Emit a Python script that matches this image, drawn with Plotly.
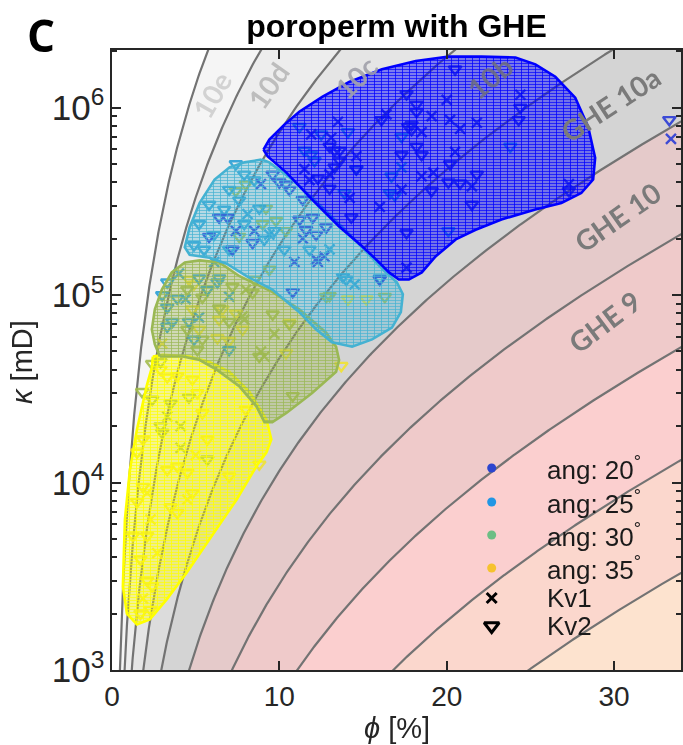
import numpy as np
import plotly.graph_objects as go

# ---------------------------------------------------------------
# GHE framework: k = (1/0.0314^2) * phi^3/(1-phi)^2 * FZI^2
# ---------------------------------------------------------------
FZI_CONST = 1.0 / 0.0314 ** 2
fzi_lines = [6, 12, 24, 48, 96, 192, 384, 768, 1536, 3072]
band_lo = [0.5, 6, 12, 24, 48, 96, 192, 384, 768, 1536]
band_hi = [6, 12, 24, 48, 96, 192, 384, 768, 1536, 3072]
band_colors = ["#fde3cf", "#fbd7cd", "#fbcfcf", "#efcaca", "#e5caca",
               "#d4d4d4", "#dcdcdc", "#e5e5e5", "#ededed", "#f5f5f5"]

ghe_names = ["GHE 9", "GHE 10", "GHE 10a", "10b", "10c", "10d", "10e"]
ghe_name_colors = ["#7a7a7a", "#7a7a7a", "#7a7a7a", "rgba(110,110,125,0.85)",
                   "rgba(160,160,170,0.9)", "#bdbdbd", "#d2d2d2"]
ghe_name_phi = [29.4, 30.2, 29.8, 22.6, 14.6, 9.3, 5.95]
ghe_name_k = [7.2e4, 2.6e5, 1.04e6, 1.45e6, 1.45e6, 1.31e6, 1.17e6]
ghe_name_angle = [-37, -35, -33, -40, -45, -55, -60]

# ---------------------------------------------------------------
# Measurements: porosity phi [%] and permeability kappa [mD]
# ---------------------------------------------------------------
g20_kv1_phi = [20.0, 19.1, 20.2, 20.8, 21.8, 18.5, 14.6, 20.5, 18.5, 21.5, 17.3,
               16.0, 17.6, 24.4, 27.3, 14.2, 33.4, 13.5, 11.9, 13.1, 13.0, 11.8,
               16.4, 19.2, 11.5, 8.5, 10.9, 12.3, 12.7, 8.9, 7.4, 11.4, 12.2]
g20_kv1_k = [1.1e6, 9.0e5, 8.6e5, 7.7e5, 8.3e5, 7.4e5, 5.5e5, 5.8e5, 4.3e5, 3.8e5,
             3.65e5, 2.95e5, 1.4e5, 1.17e6, 3.9e5, 3.3e5, 6.8e5, 8.4e5, 7.2e5,
             6.9e5, 4.4e5, 4.1e5, 9.2e5, 4.5e5, 4.7e5, 2.2e5, 1.5e5, 1.5e5, 1.6e5,
             3.9e5, 2.2e5, 2.0e5, 1.55e5]
g20_kv2_phi = [20.5, 17.6, 18.2, 18.2, 16.1, 17.7, 17.3, 18.2, 18.5, 14.6, 20.2,
               20.1, 20.8, 21.8, 19.1, 21.5, 17.6, 24.4, 24.3, 27.3, 14.3, 33.3,
               13.0, 13.3, 13.6, 12.3, 13.3, 13.6, 13.0, 17.9, 17.9, 9.6, 10.6,
               11.4, 11.2, 11.6, 12.0, 12.8, 12.2, 6.4, 6.9, 7.2, 10.8, 8.4, 5.8,
               16.0, 10.4, 10.0]
g20_kv2_k = [1.6e6, 1.18e6, 1.04e6, 9.5e5, 8.6e5, 7.9e5, 5.6e5, 6.2e5, 5.6e5, 4.7e5,
             5.0e5, 4.0e5, 3.95e5, 4.4e5, 3.6e5, 3.04e5, 2.15e5, 1.0e6, 8.6e5,
             3.6e5, 2.6e5, 8.6e5, 6.2e5, 5.9e5, 5.9e5, 4.2e5, 4.8e5, 5.2e5, 3.7e5,
             8.1e5, 7.6e5, 4.4e5, 3.65e5, 3.23e5, 2.53e5, 2.23e5, 2.6e5, 2.3e5,
             2.1e5, 2.6e5, 2.6e5, 1.75e5, 1.04e5, 1.9e5, 2.05e5, 1.21e5, 3.9e5,
             4.0e5]

g25_kv1_phi = [17.3, 8.1, 9.4, 13.0, 6.1, 4.4, 5.2, 14.5, 7.0, 4.0]
g25_kv1_k = [4.8e5, 2.7e5, 2.1e5, 1.75e5, 1.5e5, 9.5e4, 7.6e4, 1.14e5, 9.8e4, 1.3e5]
g25_kv2_phi = [17.3, 16.6, 16.7, 20.1, 23.8, 16.0, 11.2, 12.5, 14.1, 11.5, 11.9,
               12.1, 14.6, 13.9, 16.9, 13.8, 11.8, 14.0, 7.4, 7.9, 7.0, 8.5, 5.8,
               6.7, 7.6, 8.8, 5.2, 6.1, 7.9, 9.1, 4.9, 5.5, 7.0, 9.7, 10.3, 3.3,
               3.0, 3.9, 3.3, 3.6, 3.3, 4.9, 7.0, 6.3, 5.2, 6.4, 5.7, 4.6]
g25_kv2_k = [7.0e5, 3.5e5, 4.3e5, 2.2e5, 6.2e5, 1.23e5, 7.9e5, 7.2e5, 7.4e5, 5.9e5,
             5.6e5, 5.2e5, 4.7e5, 3.5e5, 3.4e5, 1.25e5, 1.75e5, 1.21e5, 5.0e5,
             4.4e5, 3.65e5, 4.1e5, 3.04e5, 2.86e5, 3.2e5, 2.9e5, 2.4e5, 2.1e5,
             2.4e5, 1.98e5, 1.85e5, 1.75e5, 1.75e5, 2.2e5, 1.75e5, 1.17e5, 1.0e5,
             9.6e4, 8.6e4, 7.2e4, 6.8e4, 5.8e4, 5.1e4, 1.17e5, 1.23e5, 1.23e5,
             1.07e5, 7.2e4]

g30_kv1_phi = [9.7, 8.9, 8.0, 7.8, 3.3, 4.1, 4.1, 9.1, 7.9]
g30_kv1_k = [6.2e4, 5.0e4, 1.07e5, 7.7e4, 2.25e4, 2.0e4, 1.53e4, 4.7e4, 7.4e4]
g30_kv2_phi = [8.0, 7.4, 9.2, 9.8, 7.6, 10.4, 9.0, 9.4, 13.0, 8.5, 9.6, 10.6, 8.8,
               10.8, 12.8, 16.3, 4.5, 5.4, 7.2, 6.4, 4.5, 5.4, 7.0, 8.4, 2.9, 2.4,
               5.1, 2.4, 3.0, 2.9, 4.6, 3.5, 1.8, 5.7]
g30_kv2_k = [3.9e5, 3.6e5, 2.9e5, 2.5e5, 2.05e5, 2.2e5, 2.4e5, 1.37e5, 9.9e4, 1.21e5,
             7.9e4, 7.0e4, 4.7e4, 2.9e4, 9.8e4, 9.8e4, 1.07e5, 9.7e4, 1.11e5,
             8.5e4, 6.55e4, 5.8e4, 7.2e4, 1.03e5, 4.4e4, 4.3e4, 5.1e4, 2.77e4,
             1.85e4, 2.0e4, 2.85e4, 2.65e4, 3.05e4, 1.33e4]

g35_kv1_phi = [2.1, 4.5, 2.3, 2.7, 1.85, 3.0, 5.0]
g35_kv1_k = [8.8e3, 8.1e3, 6.35e3, 4.2e3, 2.4e3, 5.5e4, 1.4e4]
g35_kv2_phi = [4.6, 4.9, 5.7, 6.6, 7.4, 6.4, 5.2, 6.3, 7.0, 7.8, 10.6, 10.4, 4.8,
               13.7, 8.8, 15.2, 2.9, 3.3, 3.9, 4.8, 5.1, 5.4, 3.9, 3.3, 4.5, 1.85,
               1.5, 3.5, 2.1, 3.9, 1.7, 2.1, 2.4, 2.3, 4.8, 7.0, 8.0, 5.7, 1.85,
               1.5, 1.25, 1.7, 14.1]
g35_kv2_k = [1.21e5, 1.14e5, 1.07e5, 8.4e4, 8.0e4, 7.4e4, 6.55e4, 5.9e4, 5.7e4,
             6.55e4, 7.1e4, 4.9e4, 8.4e4, 4.2e4, 1.25e4, 9.5e4, 4.0e4, 3.65e4,
             3.7e4, 3.55e4, 3.0e4, 2.35e4, 1.22e4, 1.17e4, 1.13e4, 9.5e3, 7.9e3,
             7.4e3, 5.2e3, 6.9e3, 3.9e3, 3.0e3, 2.8e3, 2.1e3, 8.8e3, 1.08e4,
             2.45e4, 1.7e4, 1.7e4, 1.45e4, 5.2e3, 2.0e3, 9.5e4]

# Outline of each angle class (phi [%], kappa [mD])
hull20_phi = [9.05, 9.4, 10.3, 11.19, 12.56, 14.17, 16.13, 18.15, 20.12, 22.08,
              24.11, 25.3, 26.49, 27.68, 28.45, 28.87, 28.75, 28.04, 26.85, 25.3,
              23.27, 21.73, 20.54, 19.35, 18.51, 17.74, 17.14, 16.55, 15.77, 14.94,
              13.57, 11.96, 10.42, 9.29]
hull20_k = [5.97e5, 6.75e5, 8.11e5, 9.5e5, 1.14e6, 1.37e6, 1.6e6, 1.77e6, 1.87e6,
            1.87e6, 1.85e6, 1.7e6, 1.46e6, 1.13e6, 7.9e5, 5.4e5, 4.13e5, 3.5e5,
            3.1e5, 2.86e5, 2.53e5, 2.23e5, 1.98e5, 1.61e5, 1.32e5, 1.21e5, 1.21e5,
            1.32e5, 1.55e5, 1.82e5, 2.32e5, 3.23e5, 4.5e5, 5.5e5]
hull25_phi = [8.93, 7.92, 7.02, 6.13, 5.24, 4.64, 4.35, 4.64, 5.83, 6.85, 8.04,
              9.58, 11.19, 12.2, 13.15, 14.35, 15.54, 16.73, 17.26, 17.38, 17.02,
              16.25, 15.06, 13.99, 12.38, 10.77, 9.4]
hull25_k = [5.28e5, 5.1e5, 4.8e5, 4.13e5, 3.1e5, 2.3e5, 1.8e5, 1.64e5, 1.58e5,
            1.47e5, 1.26e5, 1.07e5, 8.1e4, 6.55e4, 5.6e4, 5.3e4, 5.8e4, 6.7e4,
            8.1e4, 1.01e5, 1.17e5, 1.35e5, 1.75e5, 2.2e5, 3.04e5, 4.13e5, 5.1e5]
hull30_phi = [2.86, 2.56, 2.38, 2.56, 2.98, 3.57, 4.35, 5.24, 6.43, 7.62, 9.58,
              11.19, 12.8, 13.39, 13.57, 13.39, 11.96, 10.42, 9.58, 9.11, 8.63,
              7.62, 6.25, 5.24, 4.23]
hull30_k = [4.7e4, 5.45e4, 6.55e4, 8.4e4, 1.07e5, 1.32e5, 1.49e5, 1.53e5, 1.49e5,
            1.26e5, 1.04e5, 8.4e4, 6.3e4, 5.3e4, 4.5e4, 3.9e4, 3.0e4, 2.35e4,
            2.1e4, 2.1e4, 2.55e4, 3.25e4, 4.0e4, 4.5e4, 4.7e4]
hull35_phi = [2.44, 3.04, 4.64, 5.83, 7.02, 8.21, 9.23, 9.52, 9.23, 8.63, 7.44,
              5.83, 4.46, 3.27, 2.26, 1.49, 0.89, 0.65, 0.77, 1.07, 1.49, 2.08, 2.38]
hull35_k = [4.7e4, 4.8e4, 4.7e4, 4.4e4, 3.9e4, 3.05e4, 2.17e4, 1.7e4, 1.45e4,
            1.22e4, 8.1e3, 5.0e3, 3.3e3, 2.38e3, 1.86e3, 1.75e3, 2.0e3, 2.8e3,
            6.35e3, 1.17e4, 1.92e4, 3.3e4, 4.1e4]

angles = [20, 25, 30, 35]
point_colors = {20: "#2b3cd6", 25: "#2aa0d6", 30: "#a3bd4c", 35: "#f0e232"}
legend_colors = {20: "#2c45cf", 25: "#2196e4", 30: "#6cbe84", 35: "#f6c22e"}
hull_line = {20: "#0000ff", 25: "#44b2d2", 30: "#9ab854", 35: "#ffff00"}
hull_fill = {20: "rgba(0,0,255,0.42)", 25: "rgba(68,178,210,0.28)",
             30: "rgba(154,184,84,0.30)", 35: "rgba(255,255,0,0.35)"}

points = {
    20: (g20_kv1_phi, g20_kv1_k, g20_kv2_phi, g20_kv2_k),
    25: (g25_kv1_phi, g25_kv1_k, g25_kv2_phi, g25_kv2_k),
    30: (g30_kv1_phi, g30_kv1_k, g30_kv2_phi, g30_kv2_k),
    35: (g35_kv1_phi, g35_kv1_k, g35_kv2_phi, g35_kv2_k),
}
hulls = {20: (hull20_phi, hull20_k), 25: (hull25_phi, hull25_k),
         30: (hull30_phi, hull30_k), 35: (hull35_phi, hull35_k)}

X_MAX = 34.0
LOG_TOP = 6.307


def ghe_k(phi_pct, fzi):
    p = np.asarray(phi_pct) / 100.0
    return FZI_CONST * p ** 3 / (1.0 - p) ** 2 * fzi ** 2


phi_grid = np.concatenate([np.linspace(0.02, 5.0, 500), np.linspace(5.0, 34.5, 400)[1:]])

fig = go.Figure()

# GHE bands
for lo, hi, col in zip(band_lo, band_hi, band_colors):
    k_hi = np.clip(ghe_k(phi_grid, hi), 100, 1e8)
    k_lo = np.clip(ghe_k(phi_grid, lo), 100, 1e8)
    fig.add_trace(go.Scatter(
        x=np.concatenate([phi_grid, phi_grid[::-1]]),
        y=np.concatenate([k_hi, k_lo[::-1]]),
        fill="toself", fillcolor=col, mode="none",
        hoverinfo="skip", showlegend=False))

# GHE boundary lines
for f in fzi_lines:
    fig.add_trace(go.Scatter(
        x=phi_grid, y=np.clip(ghe_k(phi_grid, f), 100, 1e8), mode="lines",
        line=dict(color="#737373", width=2.2), hoverinfo="skip", showlegend=False))

# Measured points
for a in [35, 30, 25, 20]:
    p1, k1, p2, k2 = points[a]
    c = point_colors[a]
    fig.add_trace(go.Scatter(
        x=p2, y=k2, mode="markers", opacity=0.9, showlegend=False,
        marker=dict(symbol="triangle-down-open", size=11, color=c,
                    line=dict(width=2.4, color=c))))
    fig.add_trace(go.Scatter(
        x=p1, y=k1, mode="markers", opacity=0.9, showlegend=False,
        marker=dict(symbol="x-thin-open", size=10, color=c,
                    line=dict(width=2.4, color=c))))

# Hatched class outlines
for a in [35, 30, 25, 20]:
    hp, hk = hulls[a]
    xs = list(hp) + [hp[0]]
    ys = list(hk) + [hk[0]]
    fig.add_trace(go.Scatter(
        x=xs, y=ys, mode="lines", fill="toself", line=dict(width=0),
        fillpattern=dict(shape="-", size=3, solidity=0.4, bgcolor=hull_fill[a],
                         fgcolor=hull_line[a], fgopacity=0.7),
        hoverinfo="skip", showlegend=False))
    fig.add_trace(go.Scatter(
        x=xs, y=ys, mode="lines", fill="toself",
        line=dict(color=hull_line[a], width=2.6),
        fillpattern=dict(shape="|", size=7, solidity=0.15, bgcolor="rgba(0,0,0,0)",
                         fgcolor=hull_line[a], fgopacity=0.75),
        hoverinfo="skip", showlegend=False))

# GHE class names
for name, col, ph, kk, ang in zip(ghe_names, ghe_name_colors, ghe_name_phi,
                                  ghe_name_k, ghe_name_angle):
    fig.add_annotation(x=ph, y=np.log10(kk), xref="x", yref="y", text=f"<b>{name}</b>",
                       showarrow=False, textangle=ang, xanchor="center", yanchor="middle",
                       font=dict(family="Lato", size=28, color=col))

# Legend (drawn on a pixel-scaled overlay)
leg_x_sym, leg_x_txt = 493, 547
leg_rows = [468, 502, 535, 568, 598, 626]
leg_labels = [f"ang: {a}<sup>°</sup>" for a in angles] + ["Kv1", "Kv2"]
fig.add_trace(go.Scatter(
    x=[leg_x_sym] * 4, y=leg_rows[:4], xaxis="x2", yaxis="y2", mode="markers",
    marker=dict(symbol="circle", size=9, color=[legend_colors[a] for a in angles]),
    hoverinfo="skip", showlegend=False))
fig.add_trace(go.Scatter(
    x=[leg_x_sym], y=[leg_rows[4]], xaxis="x2", yaxis="y2", mode="markers",
    marker=dict(symbol="x-thin-open", size=10, color="black",
                line=dict(width=3, color="black")),
    hoverinfo="skip", showlegend=False))
fig.add_trace(go.Scatter(
    x=[leg_x_sym], y=[leg_rows[5]], xaxis="x2", yaxis="y2", mode="markers",
    marker=dict(symbol="triangle-down-open", size=13, color="black",
                line=dict(width=3, color="black")),
    hoverinfo="skip", showlegend=False))
for lab, yy in zip(leg_labels, leg_rows):
    fig.add_annotation(x=leg_x_txt, y=yy, xref="x2", yref="y2", text=lab,
                       showarrow=False, xanchor="left", yanchor="middle",
                       font=dict(family="Liberation Sans", size=26, color="#1a1a1a"))

# Panel letter and axis titles
fig.add_annotation(x=-0.124, y=1.025, xref="paper", yref="paper", text="<b>C</b>",
                   showarrow=False, xanchor="center", yanchor="middle",
                   font=dict(family="Open Sans", size=44, color="black"))
fig.add_annotation(x=0.5, y=-0.093, xref="paper", yref="paper", text="<i>ϕ</i> [%]",
                   showarrow=False, xanchor="center", yanchor="middle",
                   font=dict(family="Liberation Sans", size=29, color="#262626"))
fig.add_annotation(x=-0.158, y=0.497, xref="paper", yref="paper", text="<i>κ</i> [mD]",
                   showarrow=False, textangle=-90, xanchor="center", yanchor="middle",
                   font=dict(family="Liberation Sans", size=29, color="#262626"))

axis_common = dict(showline=True, linecolor="#262626", linewidth=2, mirror="ticks",
                   ticks="inside", ticklen=9, tickwidth=1.5, tickcolor="#262626",
                   showgrid=False, zeroline=False,
                   tickfont=dict(family="Liberation Sans", size=28, color="#262626"))

fig.update_layout(
    width=683, height=745,
    margin=dict(l=112, r=0, t=50, b=75),
    paper_bgcolor="white", plot_bgcolor="white",
    showlegend=False,
    title=dict(text="<b>poroperm with GHE</b>", x=0.5, xref="paper", xanchor="center",
               y=1 - 26 / 745, yref="container", yanchor="middle",
               font=dict(family="Liberation Sans", size=32, color="black")),
    xaxis=dict(range=[0, X_MAX], tickvals=[0, 10, 20, 30], **axis_common),
    yaxis=dict(type="log", range=[3, LOG_TOP], dtick=1, exponentformat="power",
               minor=dict(ticks="inside", ticklen=5, tickcolor="#262626", dtick="D1"),
               **axis_common),
    xaxis2=dict(overlaying="x", range=[112, 683], visible=False),
    yaxis2=dict(overlaying="y", range=[670, 50], visible=False),
)

fig.write_html("out.html")
